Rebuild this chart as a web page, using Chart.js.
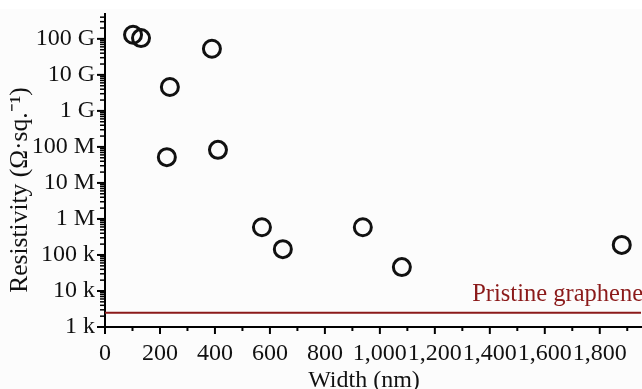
<!DOCTYPE html>
<html>
<head>
<meta charset="utf-8">
<script src="https://cdn.jsdelivr.net/npm/chart.js@4"></script>
<style>
  body { margin: 0; background: #fff; }
  #wrap { width: 642px; height: 389px; }
</style>
</head>
<body>
<div id="wrap"><canvas id="resChart" width="642" height="389"></canvas></div>
<script>
// data
const widths = [102, 131, 389, 236, 225, 411, 571, 647, 938, 1080, 1880];
const resistivity = [1.3e11, 1.05e11, 5.3e10, 4.6e9, 5.2e7, 8.3e7, 5.9e5, 1.45e5, 5.9e5, 4.6e4, 1.9e5];
const pristineValue = 2500;
const pristineLabel = 'Pristine graphene';

const yTickValues = [1e3, 1e4, 1e5, 1e6, 1e7, 1e8, 1e9, 1e10, 1e11];
const yTickLabels = ['1 k', '10 k', '100 k', '1 M', '10 M', '100 M', '1 G', '10 G', '100 G'];
const xTickValues = [0, 200, 400, 600, 800, 1000, 1200, 1400, 1600, 1800];
const xTickLabels = ['0', '200', '400', '600', '800', '1,000', '1,200', '1,400', '1,600', '1,800'];

const xTitle = 'Width (nm)';
const yTitle = 'Resistivity (Ω·sq.⁻¹)';

const serif = '"Liberation Serif", "Times New Roman", serif';
const darkRed = '#8b1a1a';

// tick marks drawn outward, long for labelled ticks, short for minor ones
const tickMarks = {
  id: 'tickMarks',
  beforeDraw(chart) {
    const ctx = chart.ctx;
    ctx.save();
    ctx.fillStyle = '#fcfcfc';
    ctx.fillRect(0, 9, chart.width, chart.height - 9);
    ctx.restore();
  },
  afterDraw(chart) {
    const ctx = chart.ctx;
    const xs = chart.scales.x, ys = chart.scales.y;
    const area = chart.chartArea;
    ctx.save();
    ctx.strokeStyle = '#000';
    ys.ticks.forEach(t => {
      const major = yTickValues.includes(t.value);
      const py = ys.getPixelForValue(t.value);
      ctx.lineWidth = major ? 2 : 1.5;
      ctx.beginPath();
      ctx.moveTo(area.left - (major ? 8 : 5), py);
      ctx.lineTo(area.left, py);
      ctx.stroke();
    });
    xs.ticks.forEach(t => {
      const major = xTickValues.includes(t.value);
      const px = xs.getPixelForValue(t.value);
      ctx.lineWidth = 2;
      ctx.beginPath();
      ctx.moveTo(px, area.bottom);
      ctx.lineTo(px, area.bottom + (major ? 7 : 4));
      ctx.stroke();
    });

    // pristine graphene label
    ctx.fillStyle = darkRed;
    ctx.font = '24.5px ' + serif;
    ctx.textAlign = 'right';
    ctx.textBaseline = 'alphabetic';
    ctx.fillText(pristineLabel, chart.width + 1, ys.getPixelForValue(pristineValue) - 12);

    // axis titles
    ctx.fillStyle = '#111';
    ctx.textAlign = 'center';
    ctx.textBaseline = 'middle';
    ctx.font = '24px ' + serif;
    ctx.fillText(xTitle, 364, 381);
    ctx.font = '25.5px ' + serif;
    ctx.translate(20, 190);
    ctx.rotate(-Math.PI / 2);
    ctx.fillText(yTitle, 0, 0);
    ctx.restore();
  }
};

const yAllTicks = [];
for (let e = 3; e <= 11; e++) {
  for (let m = 1; m <= 9; m++) {
    const v = m * Math.pow(10, e);
    if (v <= 4.9e11) yAllTicks.push(v);
  }
}
const xAllTicks = [];
for (let v = 0; v <= 1900; v += 100) xAllTicks.push(v);

new Chart(document.getElementById('resChart'), {
  type: 'scatter',
  data: {
    datasets: [
      {
        label: 'Resistivity',
        data: widths.map((w, i) => ({ x: w, y: resistivity[i] })),
        pointStyle: 'circle',
        pointRadius: 8.5,
        pointBorderWidth: 3,
        borderColor: '#111',
        backgroundColor: 'rgba(0,0,0,0)',
        pointHoverRadius: 8.5
      },
      {
        type: 'line',
        label: pristineLabel,
        data: [{ x: 0, y: pristineValue }, { x: 1950, y: pristineValue }],
        borderColor: darkRed,
        borderWidth: 2,
        pointRadius: 0,
        fill: false
      }
    ]
  },
  options: {
    responsive: false,
    animation: false,
    layout: { autoPadding: false, padding: { top: 14, right: 1, left: 0, bottom: 0 } },
    plugins: { legend: { display: false }, tooltip: { enabled: false } },
    scales: {
      x: {
        type: 'linear',
        min: 0,
        max: 1950,
        afterFit: s => { s.height = 62; s.paddingLeft = 0; s.paddingRight = 0; },
        afterBuildTicks: s => { s.ticks = xAllTicks.map(v => ({ value: v })); },
        grid: { drawOnChartArea: false, drawTicks: false },
        border: { display: true, color: '#000', width: 2 },
        ticks: {
          autoSkip: false,
          maxRotation: 0,
          padding: 12,
          color: '#111',
          font: { family: serif, size: 24 },
          callback: v => {
            const i = xTickValues.indexOf(v);
            return i >= 0 ? xTickLabels[i] : '';
          }
        }
      },
      y: {
        type: 'logarithmic',
        min: 1000,
        max: 4.9e11,
        afterFit: s => { s.width = 105; s.paddingTop = 0; s.paddingBottom = 0; },
        afterBuildTicks: s => { s.ticks = yAllTicks.map(v => ({ value: v })); },
        grid: { drawOnChartArea: false, drawTicks: false },
        border: { display: true, color: '#000', width: 2 },
        ticks: {
          autoSkip: false,
          padding: 10,
          color: '#111',
          font: { family: serif, size: 24 },
          callback: v => {
            const i = yTickValues.indexOf(v);
            return i >= 0 ? yTickLabels[i] : '';
          }
        }
      }
    }
  },
  plugins: [tickMarks]
});
</script>
</body>
</html>
